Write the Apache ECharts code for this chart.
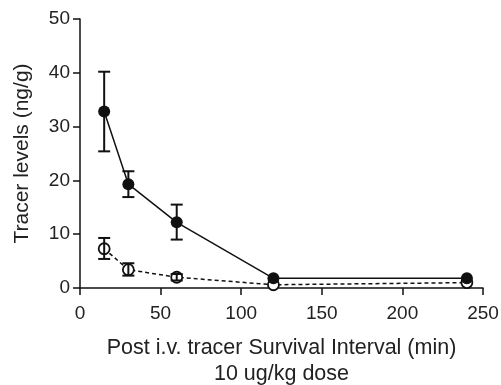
<!DOCTYPE html>
<html>
<head>
<meta charset="utf-8">
<script src="https://cdn.jsdelivr.net/npm/echarts@6/dist/echarts.min.js"></script>
<style>
  html, body { margin: 0; padding: 0; background: #fff; }
  #chart { width: 501px; height: 385px; }
</style>
</head>
<body>
<div id="chart"></div>
<script>
  // survival interval (min)
  var times = [15, 30, 60, 120, 240]

  // filled circles: mean and error bar ends (ng/g)
  var filledMean = [32.8, 19.3, 12.2, 1.8, 1.8]
  var filledLow  = [25.4, 16.9, 9.0, 1.8, 1.8]
  var filledHigh = [40.2, 21.7, 15.5, 1.8, 1.8]

  // open circles
  var openMean = [7.3, 3.4, 2.0, 0.6, 1.0]
  var openLow  = [5.4, 2.3, 1.4, 0.6, 1.0]
  var openHigh = [9.3, 4.6, 2.6, 0.6, 1.0]

  var xTicks = [0, 50, 100, 150, 200, 250]
  var yTicks = [0, 10, 20, 30, 40, 50]

  var font = '"Liberation Sans", Arial, Helvetica, sans-serif'

  function pairs(xs, ys) {
    var out = []
    for (var i = 0; i < xs.length; i++) out.push([xs[i], ys[i]])
    return out
  }

  function errData(xs, lo, hi) {
    var out = []
    for (var i = 0; i < xs.length; i++) {
      if (hi[i] - lo[i] > 0) out.push([xs[i], lo[i], hi[i]])
    }
    return out
  }

  // error bars drawn with a custom series
  function renderErr(params, api) {
    var x = api.value(0)
    var lo = api.coord([x, api.value(1)])
    var hi = api.coord([x, api.value(2)])
    var w = 6
    var st = { stroke: '#111', lineWidth: 2, fill: null }
    return {
      type: 'group',
      children: [
        { type: 'line', shape: { x1: lo[0], y1: lo[1], x2: hi[0], y2: hi[1] }, style: st },
        { type: 'line', shape: { x1: hi[0] - w, y1: hi[1], x2: hi[0] + w, y2: hi[1] }, style: st },
        { type: 'line', shape: { x1: lo[0] - w, y1: lo[1], x2: lo[0] + w, y2: lo[1] }, style: st }
      ]
    }
  }

  var myChart = echarts.init(document.getElementById('chart'))

  var axisCommon = {
    axisLine: { show: true, lineStyle: { color: '#111', width: 1.5 } },
    axisTick: { show: true, length: 7, lineStyle: { color: '#111', width: 1.5 } },
    splitLine: { show: false }
  }

  var option = {
    animation: false,
    grid: { left: 80, right: 18, top: 19, bottom: 97, containLabel: false, outerBoundsMode: 'none' },
    xAxis: Object.assign({}, axisCommon, {
      type: 'value',
      min: 0, max: 250, interval: 50,
      name: 'Post i.v. tracer Survival Interval (min)\n10 ug/kg dose',
      nameLocation: 'middle',
      nameGap: 47,
      nameTextStyle: { color: '#222', fontSize: 21.5, fontFamily: font, lineHeight: 26 },
      axisLabel: {
        color: '#222', fontSize: 19, fontFamily: font, margin: 16,
        formatter: function (v) { return xTicks.indexOf(v) >= 0 ? String(v) : '' }
      }
    }),
    yAxis: Object.assign({}, axisCommon, {
      type: 'value',
      min: 0, max: 50, interval: 10,
      name: 'Tracer levels (ng/g)',
      nameLocation: 'middle',
      nameGap: 47,
      nameTextStyle: { color: '#222', fontSize: 21, fontFamily: font },
      axisLabel: {
        color: '#222', fontSize: 19, fontFamily: font, margin: 10,
        formatter: function (v) { return yTicks.indexOf(v) >= 0 ? String(v) : '' }
      }
    }),
    series: [
      {
        type: 'line',
        data: pairs(times, openMean),
        symbol: 'circle',
        symbolSize: 11,
        lineStyle: { color: '#111', width: 1.5, type: [4, 3] },
        itemStyle: { color: '#fff', borderColor: '#111', borderWidth: 1.8 },
        z: 2
      },
      {
        type: 'line',
        data: pairs(times, filledMean),
        symbol: 'circle',
        symbolSize: 12,
        lineStyle: { color: '#111', width: 1.5 },
        itemStyle: { color: '#111' },
        z: 3
      },
      {
        type: 'custom',
        renderItem: renderErr,
        data: errData(times, openLow, openHigh),
        encode: { x: 0, y: [1, 2] },
        z: 4
      },
      {
        type: 'custom',
        renderItem: renderErr,
        data: errData(times, filledLow, filledHigh),
        encode: { x: 0, y: [1, 2] },
        z: 4
      }
    ]
  }

  myChart.setOption(option)
</script>
</body>
</html>
